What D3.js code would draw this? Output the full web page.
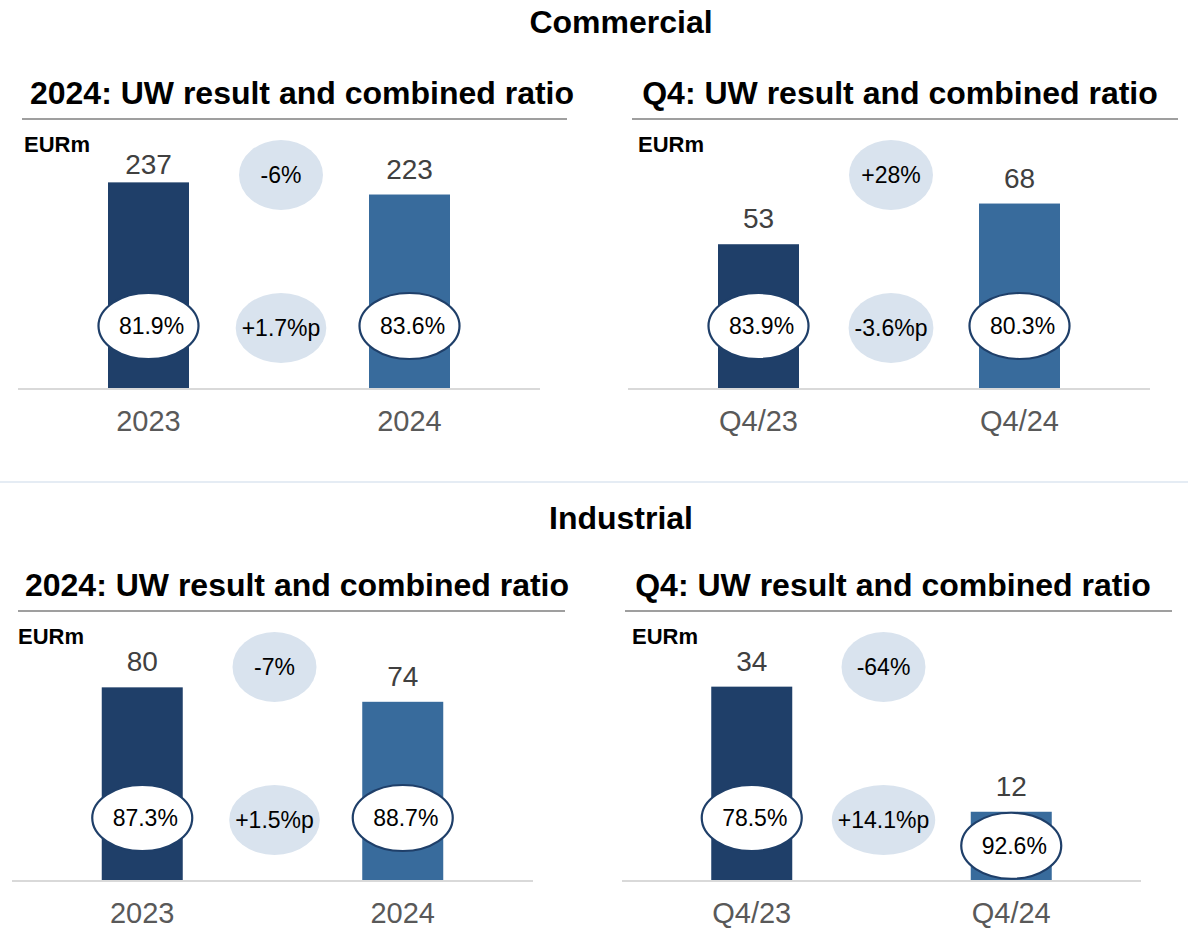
<!DOCTYPE html>
<html>
<head>
<meta charset="utf-8">
<script src="https://cdn.jsdelivr.net/npm/d3@7"></script>
<style>
  body { margin: 0; background: #fff; }
  svg { font-family: "Liberation Sans", Arial, sans-serif; display: block; }
</style>
</head>
<body>
<svg width="1188" height="928"></svg>
<script>
// data: panels in order commercial FY, commercial Q4, industrial FY, industrial Q4
const sections = ['Commercial', 'Industrial'];
const panelTitles = ['2024: UW result and combined ratio', 'Q4: UW result and combined ratio'];
const periods = [['2023', '2024'], ['Q4/23', 'Q4/24']];
const uwResult = [[237, 223], [53, 68], [80, 74], [34, 12]];
const combinedRatio = [[81.9, 83.6], [83.9, 80.3], [87.3, 88.7], [78.5, 92.6]];
const uwChange = [-6, 28, -7, -64];
const crChange = [1.7, -3.6, 1.5, 14.1];

const width = 1188, height = 928;
const svg = d3.select('svg').attr('width', width).attr('height', height);

const darkBlue = '#1f3f69', midBlue = '#386b9c', bubble = '#d9e3ee';
const plotH = 236, barW = 81;

// panel placement on the page
const layout = [
  {x0: 18, x1: 540, axisY: 388, titleX: 302, rule: [22, 567], eurX: 24, top: 272},
  {x0: 628, x1: 1150, axisY: 388, titleX: 900, rule: [632, 1178], eurX: 638, top: 87},
  {x0: 12, x1: 533, axisY: 880, titleX: 297, rule: [18, 565], eurX: 18, top: 98},
  {x0: 622, x1: 1141, axisY: 880, titleX: 893, rule: [625, 1172], eurX: 632, top: 41.5}
];

let pct = v => d3.format('.1f')(v) + '%';
let signed = (v, dec) => (v > 0 ? '+' : '-') + (dec ? Math.abs(v).toFixed(1) : Math.abs(v));

// section headings + separator
svg.selectAll('.section')
  .data(sections)
  .enter().append('text')
    .attr('x', 621)
    .attr('y', (d, i) => i ? 529 : 33)
    .attr('text-anchor', 'middle')
    .attr('font-size', 32)
    .attr('font-weight', 'bold')
    .text(d => d);

svg.append('line')
  .attr('x1', 0).attr('x2', width)
  .attr('y1', 482).attr('y2', 482)
  .attr('stroke', '#dce6f1').attr('stroke-width', 1.5);

layout.forEach((p, i) => {
  let g = svg.append('g');
  let cats = periods[i % 2];
  let vals = uwResult[i];

  let x = d3.scalePoint().domain(cats).range([p.x0, p.x1]).padding(0.5);
  let y = d3.scaleLinear().domain([0, p.top]).range([p.axisY, p.axisY - plotH]);

  // title + rule
  g.append('text')
    .attr('x', p.titleX).attr('y', p.axisY - 284)
    .attr('text-anchor', 'middle')
    .attr('font-size', 32).attr('font-weight', 'bold')
    .text(panelTitles[i % 2]);
  g.append('line')
    .attr('x1', p.rule[0]).attr('x2', p.rule[1])
    .attr('y1', p.axisY - 269).attr('y2', p.axisY - 269)
    .attr('stroke', '#7f7f7f').attr('stroke-width', 1.3);

  g.append('text')
    .attr('x', p.eurX).attr('y', p.axisY - 236)
    .attr('font-size', 22).attr('font-weight', 'bold')
    .text('EURm');

  // bars
  g.selectAll('.bar')
    .data(vals)
    .enter().append('rect')
      .attr('x', (d, j) => x(cats[j]) - barW / 2)
      .attr('width', barW)
      .attr('y', d => y(d))
      .attr('height', d => y(0) - y(d))
      .attr('fill', (d, j) => j ? midBlue : darkBlue);

  // axis line + category labels
  g.append('line')
    .attr('x1', p.x0).attr('x2', p.x1)
    .attr('y1', p.axisY + 1).attr('y2', p.axisY + 1)
    .attr('stroke', '#d9d9d9').attr('stroke-width', 2);

  g.selectAll('.cat')
    .data(cats)
    .enter().append('text')
      .attr('x', d => x(d))
      .attr('y', p.axisY + 43)
      .attr('text-anchor', 'middle')
      .attr('font-size', 29).attr('fill', '#595959')
      .text(d => d);

  // value labels
  g.selectAll('.val')
    .data(vals)
    .enter().append('text')
      .attr('x', (d, j) => x(cats[j]))
      .attr('y', d => Math.max(y(d) - 16, p.axisY - plotH + 22))
      .attr('text-anchor', 'middle')
      .attr('font-size', 28).attr('fill', '#404040')
      .text(d => d);

  // combined ratio ovals
  let ov = g.selectAll('.ratio')
    .data(combinedRatio[i])
    .enter().append('g')
      .attr('transform', (d, j) => {
        let cy = Math.max(p.axisY - 62, y(vals[j]) + 34);
        return `translate(${x(cats[j])},${cy})`;
      });
  ov.append('ellipse')
    .attr('rx', 50).attr('ry', 33)
    .attr('fill', '#fff').attr('stroke', darkBlue).attr('stroke-width', 2.2);
  ov.append('text')
    .attr('x', 3).attr('y', 8)
    .attr('text-anchor', 'middle')
    .attr('font-size', 23)
    .text(d => pct(d));

  // change bubbles
  let mid = (x(cats[0]) + x(cats[1])) / 2 + 2;
  let bubbles = [
    {text: signed(uwChange[i], false) + '%', cy: p.axisY - 213},
    {text: signed(crChange[i], true) + '%p', cy: p.axisY - 60}
  ];
  let bg = g.selectAll('.bubble')
    .data(bubbles)
    .enter().append('g')
      .attr('transform', d => `translate(${mid},${d.cy})`);
  bg.append('ellipse').attr('ry', 35).attr('fill', bubble);
  bg.append('text')
    .attr('y', 8)
    .attr('text-anchor', 'middle')
    .attr('font-size', 23)
    .text(d => d.text);
  bg.each(function() {
    let w = d3.select(this).select('text').node().getComputedTextLength();
    d3.select(this).select('ellipse').attr('rx', Math.max(42, w / 2 + 6));
  });
});
</script>
</body>
</html>
